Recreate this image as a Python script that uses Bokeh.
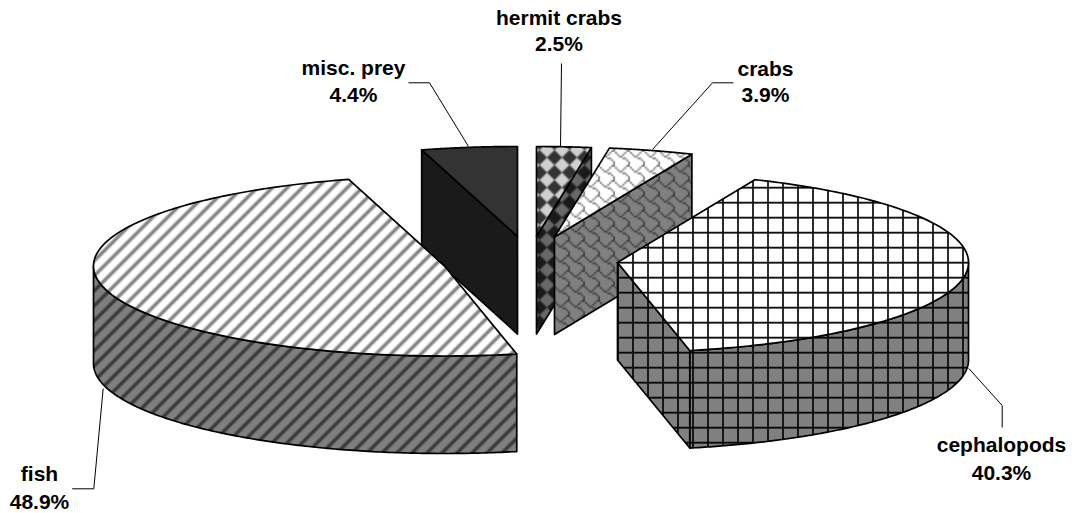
import base64, struct, zlib
import numpy as np
from bokeh.plotting import figure
from bokeh.embed import file_html
from bokeh.resources import INLINE
from bokeh.core.properties import value
from bokeh.models import ImageURLTexture

# ---- data ----
categories = ["hermit crabs", "crabs", "cephalopods", "fish", "misc. prey"]
percent = [2.5, 3.9, 40.3, 48.9, 4.4]
labels = ["2.5%", "3.9%", "40.3%", "48.9%", "4.4%"]

# ---- layout (in page pixels, the data space of the figure) ----
centers = {"hermit crabs": (536, 236), "crabs": (554, 236.5), "cephalopods": (617, 262),
           "fish": (444, 265.5), "misc. prey": (517, 236)}
RX, RY, DEPTH = 351, 90, 97.5
label_xy = {"hermit crabs": (558.5, 25, 51), "crabs": (765, 76.5, 102.5), "cephalopods": (1001, 452, 480),
            "fish": (39, 481.5, 509), "misc. prey": (353, 75.5, 102)}
TEXT_DY = -8.5
leaders = {"hermit crabs": [(561, 63), (560, 146)],
           "crabs": [(733, 82.3), (712, 82.3), (652, 149)],
           "cephalopods": [(968.3, 368), (1001.7, 405), (1001.7, 427)],
           "fish": [(102.7, 388), (93.3, 488.3), (71.7, 488.3)],
           "misc. prey": [(408, 82.3), (429, 82.3), (468, 146)]}
W, H = 1075, 513


def png_uri(rgb):
    rgb = np.clip(rgb, 0, 255).astype(np.uint8)
    h, w, _ = rgb.shape
    raw = b"".join(b"\0" + rgb[i].tobytes() for i in range(h))
    def chunk(t, d):
        return struct.pack(">I", len(d)) + t + d + struct.pack(">I", zlib.crc32(t + d) & 0xffffffff)
    data = (b"\x89PNG\r\n\x1a\n" + chunk(b"IHDR", struct.pack(">IIBBBBB", w, h, 8, 2, 0, 0, 0))
            + chunk(b"IDAT", zlib.compress(raw)) + chunk(b"IEND", b""))
    return "data:image/png;base64," + base64.b64encode(data).decode()


SS = 8
N = 15
sub = (np.arange(N * SS) + 0.5) / SS
XX, YY = np.meshgrid(sub, sub)


def compose(mask, bg, fg, blur=1):
    m = mask.astype(float)
    m = m.reshape(N, SS, N, SS).mean(axis=(1, 3))
    k = 0.12
    for _ in range(blur):
        m = (1 - 4 * k) * m + k * (np.roll(m, 1, 0) + np.roll(m, -1, 0) + np.roll(m, 1, 1) + np.roll(m, -1, 1))
    return np.stack([bg + (fg - bg) * m] * 3, axis=-1)


def wrap(v):
    return (v + 7.5) % 15 - 7.5


def tile_stripes(bg, fg, half):
    return png_uri(compose(np.abs(wrap(XX + YY - 10)) < half, bg, fg, blur=2))


def tile_grid(bg, fg):
    return png_uri(compose((np.abs(wrap(XX - 3)) < 0.9) | (np.abs(wrap(YY - 7.7)) < 0.9), bg, fg, blur=0))


def bitmap_mask(rows):
    bits = np.array([[(r >> (7 - i)) & 1 for i in range(8)] for r in rows])
    u = (XX / N * 8).astype(int) % 8
    v = (YY / N * 8).astype(int) % 8
    return bits[v, u] == 1


def tile_shingle(bg, fg):
    m = bitmap_mask([0x03, 0x84, 0x48, 0x30, 0x0C, 0x02, 0x01, 0x01])
    return png_uri(compose(m, bg, fg))


def tile_diamond(bg, fg):
    d = np.abs(wrap(XX - 7)) + np.abs(wrap(YY))
    return png_uri(compose(d < 7.4, bg, fg, blur=2))


def tex(uri):
    return ImageURLTexture(url=uri)


styles = {
    "hermit crabs": {"top": ("#333333", tile_diamond(0x33, 0xd0)), "side": ("#1a1a1a", tile_diamond(0x1a, 0x68))},
    "crabs": {"top": ("#ffffff", tile_shingle(0xff, 0x80)), "side": ("#808080", tile_shingle(0x80, 0x40))},
    "cephalopods": {"top": ("#ffffff", tile_grid(0xff, 0x10)), "side": ("#808080", tile_grid(0x80, 0x08))},
    "fish": {"top": ("#ffffff", tile_stripes(0xff, 0x80, 2.4)), "side": ("#808080", tile_stripes(0x80, 0x38, 2.4))},
    "misc. prey": {"top": ("#333333", None), "side": ("#1a1a1a", None)},
}

# slice angles, clockwise from the top, from the values
ends = np.cumsum(percent) * 3.6
starts = ends - np.array(percent) * 3.6
spans = {c: (s, e) for c, s, e in zip(categories, starts, ends)}
spans["misc. prey"] = (spans["misc. prey"][0] - 360, spans["misc. prey"][1] - 360)

p = figure(width=W, height=H, x_range=(0, W), y_range=(H, 0), output_backend="svg",
           toolbar_location=None, min_border=0, outline_line_color=None)
p.axis.visible = False
p.grid.visible = False
p.background_fill_color = "white"
p.border_fill_color = None


def rim(cat, a, drop=0.0):
    cx, cy = centers[cat]
    t = np.radians(a)
    return cx + RX * np.sin(t), cy - RY * np.cos(t) + drop


counter = [0]


def face(xs, ys, cat, kind):
    color, uri = styles[cat][kind]
    kw = dict(fill_color=color, line_color="black", line_width=1.7, line_join="round")
    if uri is not None:
        counter[0] += 1
        name = f"tile{counter[0]}"
        kw.update(hatch_pattern=name, hatch_extra={name: tex(uri)}, hatch_alpha=1.0)
    p.patch(list(xs), list(ys), **kw)


for cat in ["misc. prey", "fish", "hermit crabs", "crabs", "cephalopods"]:
    a0, a1 = spans[cat]
    cx, cy = centers[cat]
    # outer wall (front half only)
    w0, w1 = max(a0, 90), min(a1, 270)
    if w1 > w0:
        t = np.linspace(w0, w1, 160)
        x1, y1 = rim(cat, t)
        x2, y2 = rim(cat, t[::-1], DEPTH)
        face(np.r_[x1, x2], np.r_[y1, y2], cat, "side")
    # cut faces
    for a, vis in ((a1, np.sin(np.radians(a1)) > 0), (a0, np.sin(np.radians(a0)) < 0)):
        if vis:
            rx, ry = rim(cat, a)
            face([cx, rx, rx, cx], [cy, ry, ry + DEPTH, cy + DEPTH], cat, "side")
    # top face
    t = np.linspace(a0, a1, 160)
    x1, y1 = rim(cat, t)
    face(np.r_[cx, x1], np.r_[cy, y1], cat, "top")

for cat, lab in zip(categories, labels):
    pts = leaders[cat]
    p.line([q[0] for q in pts], [q[1] for q in pts], line_color="black", line_width=1)
    x, y1, y2 = label_xy[cat]
    p.text([x, x], [y1 + TEXT_DY, y2 + TEXT_DY], text=[cat, lab], text_align="center", text_baseline="alphabetic",
           text_font=value("Liberation Sans"), text_font_style="bold", text_font_size="21px", text_color="black")

open("out.html", "w").write(file_html(p, INLINE))
